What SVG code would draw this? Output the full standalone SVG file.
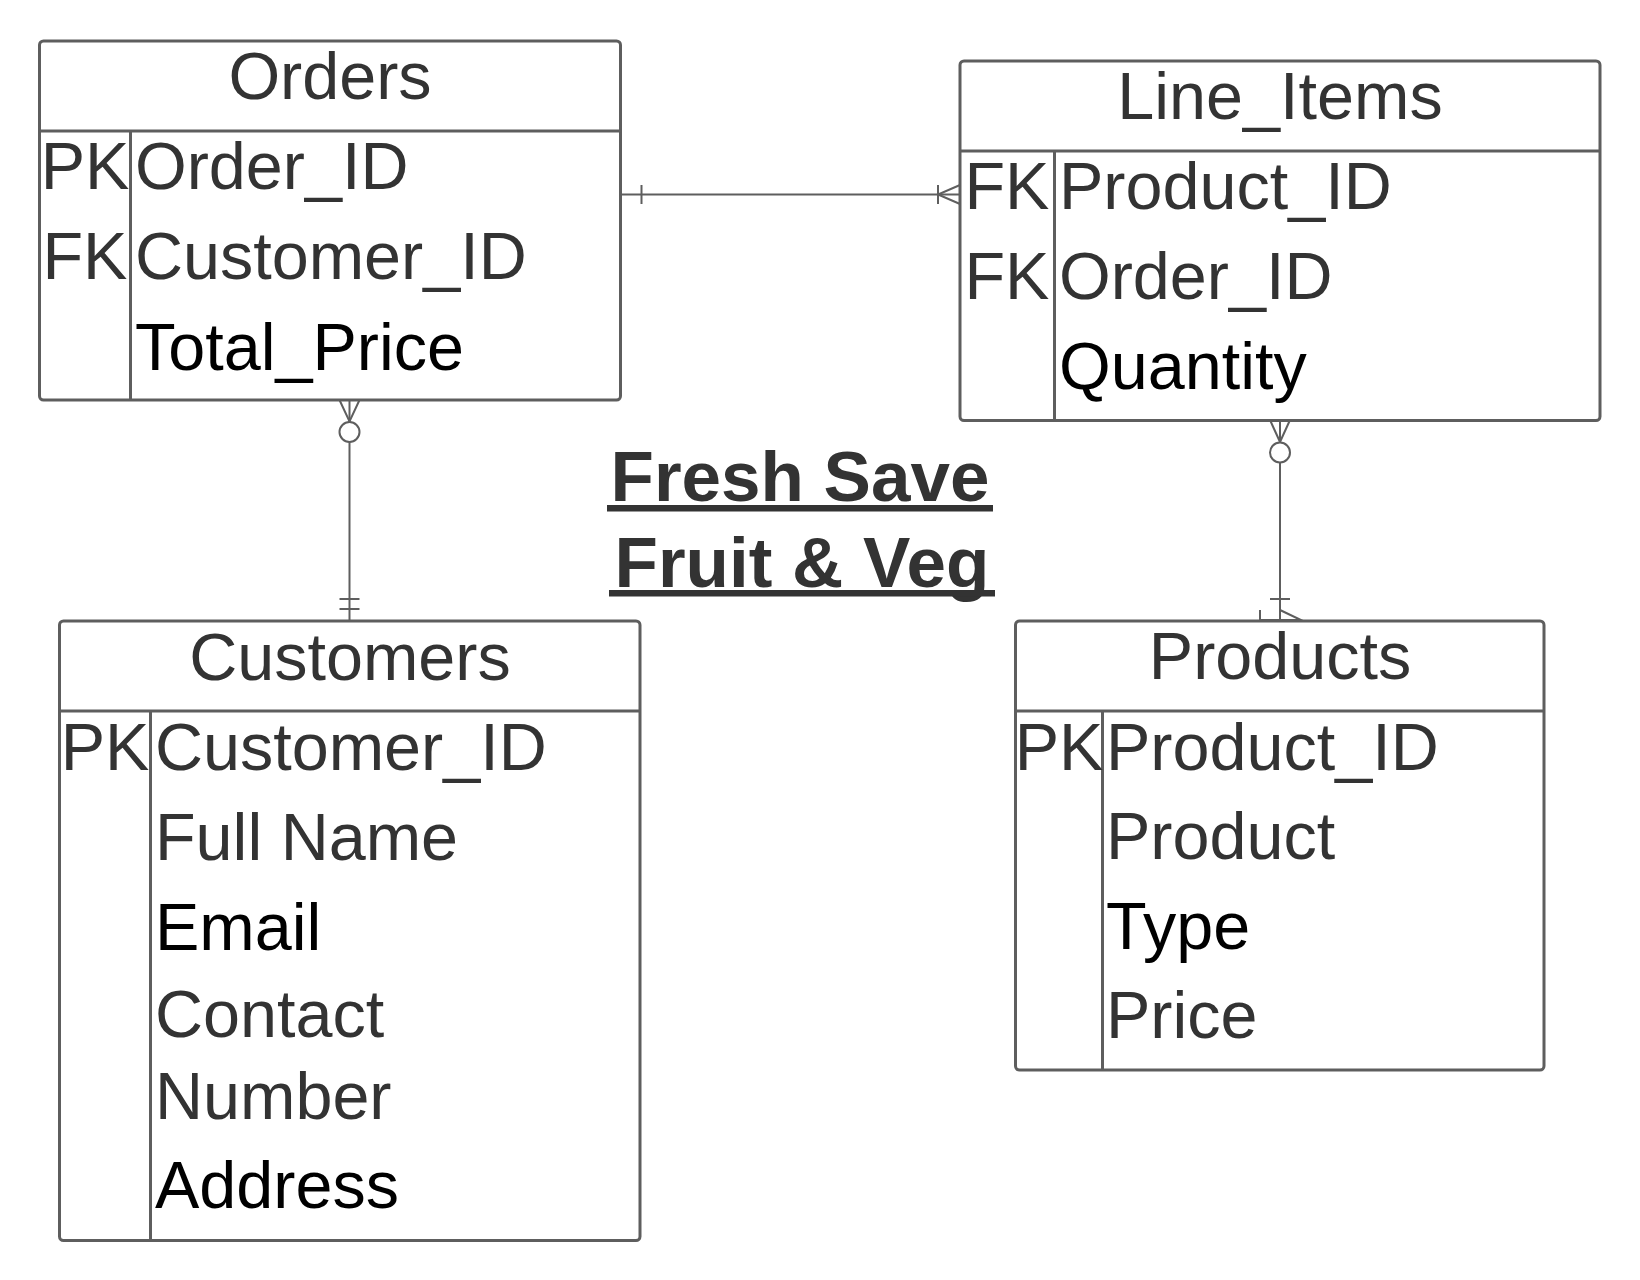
<svg xmlns="http://www.w3.org/2000/svg" width="1640" height="1280" viewBox="0 0 1640 1280">
<style>
.box{fill:#ffffff;stroke:#5e5e5e;stroke-width:3}
.sep{fill:none;stroke:#5e5e5e;stroke-width:3}
.t{font-family:"Liberation Sans",Arial,sans-serif;font-size:66.5px;fill:#333333}
.k{text-anchor:middle}
.c{text-anchor:middle}
.b{fill:#000000}
.conn line,.conn polyline,.conn path{fill:none;stroke:#5e5e5e;stroke-width:2}
.conn circle{fill:#ffffff;stroke:#5e5e5e;stroke-width:2}
.title{font-family:"Liberation Sans",Arial,sans-serif;font-size:71px;font-weight:bold;fill:#333333;text-anchor:middle}
</style>
<rect width="1640" height="1280" fill="#ffffff"/>

<g id="connectors" class="conn">
  <!-- Orders to Line_Items -->
  <line x1="620" y1="194.5" x2="960" y2="194.5"/>
  <line x1="641.5" y1="185" x2="641.5" y2="204"/>
  <line x1="938" y1="185" x2="938" y2="204"/>
  <polyline points="960,185 938,194.5 960,204"/>
  <!-- Orders to Customers -->
  <line x1="349.5" y1="400" x2="349.5" y2="621"/>
  <polyline points="339.5,400 349.5,421.5 359.5,400"/>
  <circle cx="349.5" cy="432" r="10"/>
  <line x1="339.5" y1="599" x2="359.5" y2="599"/>
  <line x1="339.5" y1="609" x2="359.5" y2="609"/>
  <!-- Line_Items to Products -->
  <line x1="1280" y1="420" x2="1280" y2="620"/>
  <polyline points="1270,420 1280,442 1290,420"/>
  <circle cx="1280" cy="452.5" r="10"/>
  <line x1="1270" y1="599" x2="1290" y2="599"/>
  <line x1="1260" y1="620" x2="1300" y2="620"/>
  <line x1="1260" y1="610" x2="1260" y2="629"/>
  <polyline points="1280,610 1301,620 1280,630"/>
</g>

<g id="orders">
  <rect class="box" x="39.5" y="41" width="581" height="359" rx="4"/>
  <line class="sep" x1="39.5" y1="131" x2="620.5" y2="131"/>
  <line class="sep" x1="130.5" y1="131" x2="130.5" y2="400"/>
  <text class="t c" x="330" y="98.5">Orders</text>
  <text class="t k" x="85" y="189">PK</text>
  <text class="t k" x="85" y="279">FK</text>
  <text class="t" x="135" y="189">Order_ID</text>
  <text class="t" x="135" y="279">Customer_ID</text>
  <text class="t b" x="135" y="369.5">Total_Price</text>
</g>

<g id="line_items">
  <rect class="box" x="960" y="61" width="640" height="359.5" rx="4"/>
  <line class="sep" x1="960" y1="151" x2="1600" y2="151"/>
  <line class="sep" x1="1054.5" y1="151" x2="1054.5" y2="420.5"/>
  <text class="t c" x="1280" y="119">Line_Items</text>
  <text class="t k" x="1007" y="209">FK</text>
  <text class="t k" x="1007" y="298.5">FK</text>
  <text class="t" x="1059" y="209">Product_ID</text>
  <text class="t" x="1059" y="298.5">Order_ID</text>
  <text class="t b" x="1059" y="388.5">Quantity</text>
</g>

<g id="customers">
  <rect class="box" x="59.5" y="621" width="580.5" height="619.5" rx="4"/>
  <line class="sep" x1="59.5" y1="711" x2="640" y2="711"/>
  <line class="sep" x1="150.5" y1="711" x2="150.5" y2="1240.5"/>
  <text class="t c" x="350" y="680">Customers</text>
  <text class="t k" x="105" y="769.5">PK</text>
  <text class="t" x="155" y="769.5">Customer_ID</text>
  <text class="t" x="155" y="859.5">Full Name</text>
  <text class="t b" x="155" y="949.5">Email</text>
  <text class="t" x="155" y="1037">Contact</text>
  <text class="t" x="155" y="1118.5">Number</text>
  <text class="t b" x="155" y="1208">Address</text>
</g>

<g id="products">
  <rect class="box" x="1015.5" y="621" width="528.5" height="449" rx="4"/>
  <line class="sep" x1="1015.5" y1="711" x2="1544" y2="711"/>
  <line class="sep" x1="1102.5" y1="711" x2="1102.5" y2="1070"/>
  <text class="t c" x="1280" y="679">Products</text>
  <text class="t k" x="1059" y="769.5">PK</text>
  <text class="t" x="1106" y="769.5">Product_ID</text>
  <text class="t" x="1106" y="858.5">Product</text>
  <text class="t b" x="1106" y="948.5">Type</text>
  <text class="t" x="1106" y="1038">Price</text>
</g>

<g id="title">
  <text class="title" x="800" y="501">Fresh Save</text>
  <rect x="607" y="505" width="386" height="6.5" fill="#333333"/>
  <text class="title" x="802" y="586.5">Fruit &amp; Veg</text>
  <rect x="609" y="590" width="386" height="6.5" fill="#333333"/>
</g>
</svg>
